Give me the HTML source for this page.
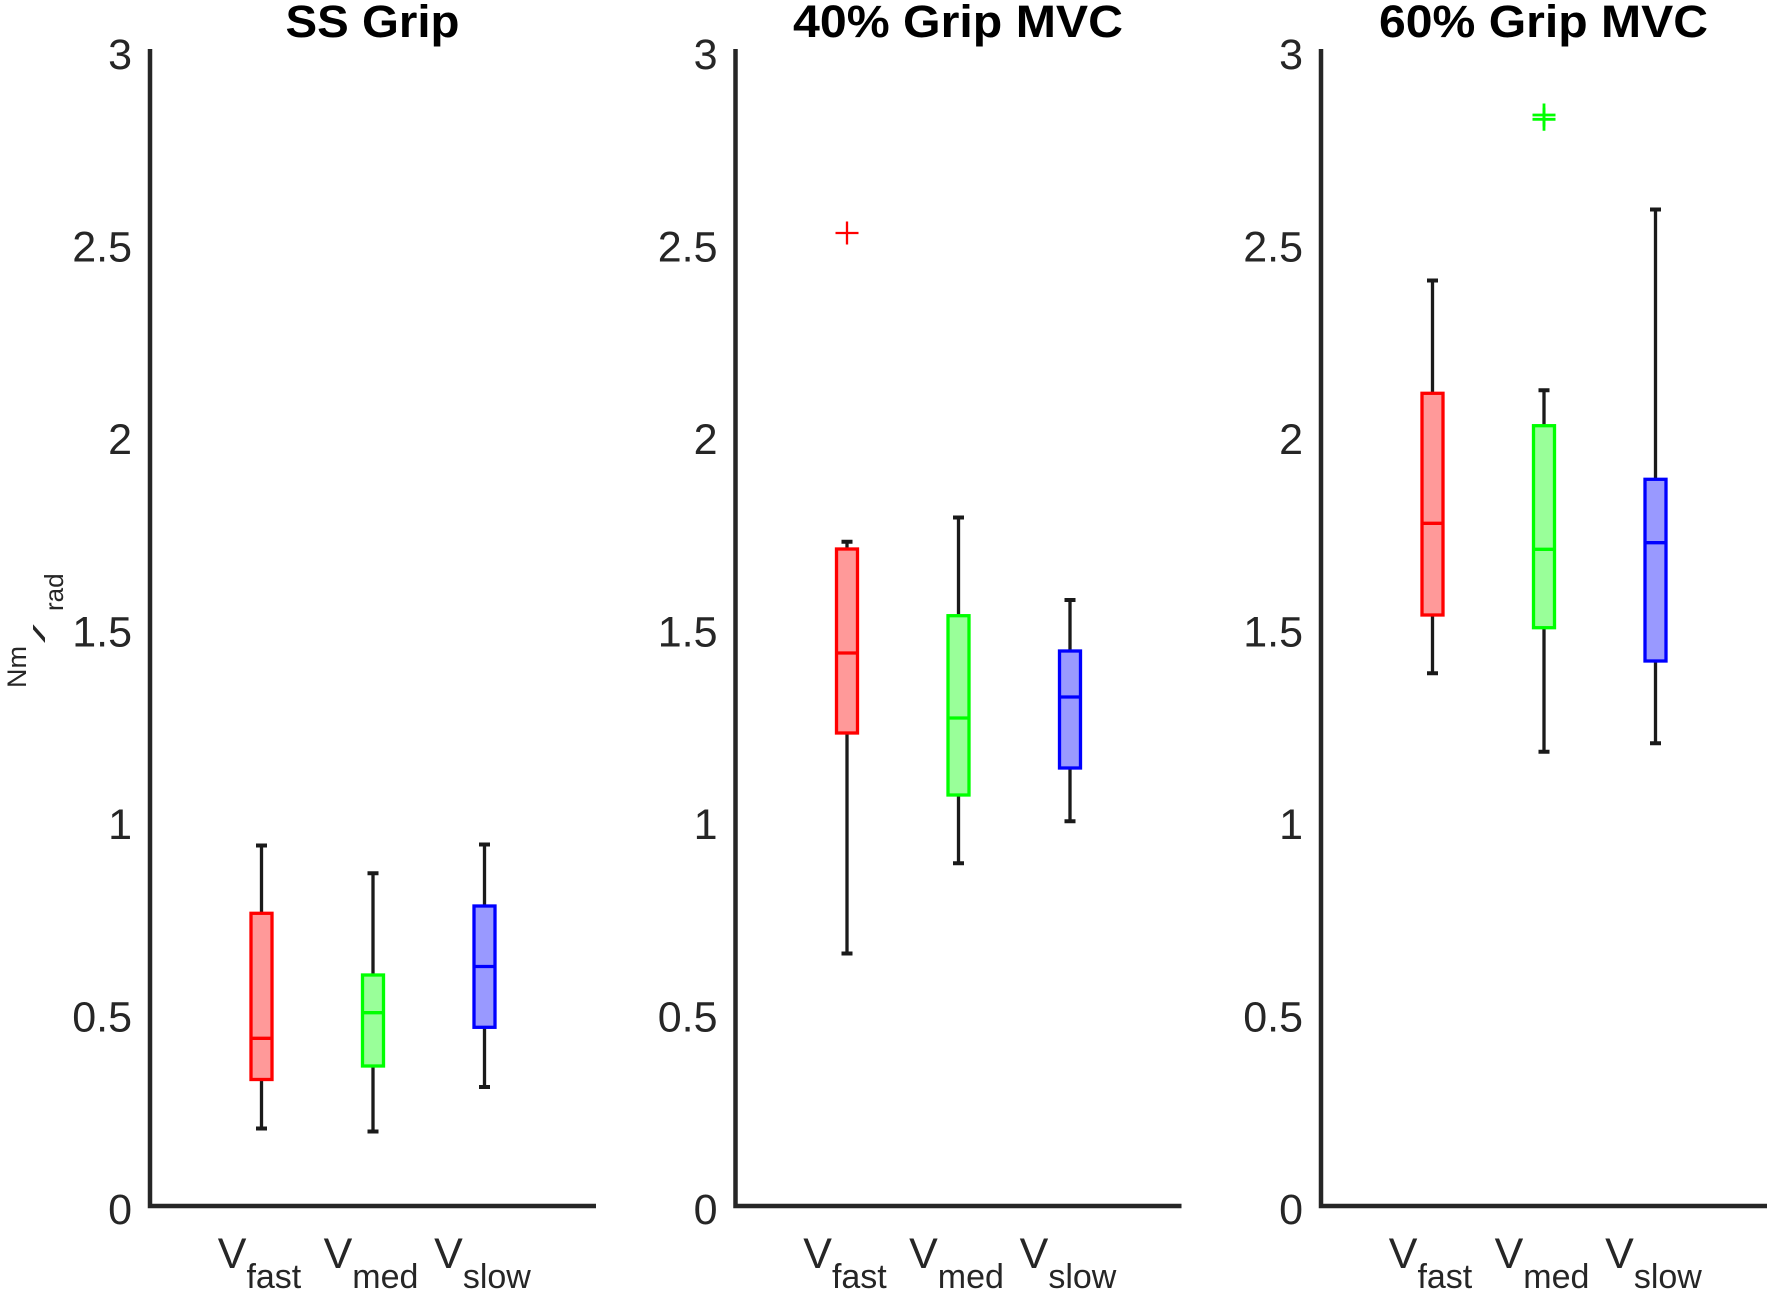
<!DOCTYPE html>
<html>
<head>
<meta charset="utf-8">
<style>
html,body{margin:0;padding:0;background:#fff;}
svg{display:block;}
text{font-family:"Liberation Sans",Arial,sans-serif;}
</style>
</head>
<body>
<svg width="1772" height="1293" viewBox="0 0 1772 1293" xmlns="http://www.w3.org/2000/svg">
<rect width="1772" height="1293" fill="#fff"/>

<!-- Titles -->
<g font-weight="bold" font-size="45" fill="#000" text-anchor="middle">
  <text x="372.5" y="37" textLength="174" lengthAdjust="spacingAndGlyphs">SS Grip</text>
  <text x="958" y="37" textLength="330" lengthAdjust="spacingAndGlyphs">40% Grip MVC</text>
  <text x="1543.5" y="37" textLength="329" lengthAdjust="spacingAndGlyphs">60% Grip MVC</text>
</g>

<!-- Y label -->
<g fill="#262626">
  <text transform="translate(26,688) rotate(-90)" font-size="27">Nm</text>
  <text transform="translate(45,643) rotate(-90) scale(2.6,0.65)" font-size="26">/</text>
  <text transform="translate(63,611) rotate(-90)" font-size="26">rad</text>
</g>

<!-- Axes -->
<g stroke="#262626" stroke-width="4.5" fill="none">
  <path d="M150,49 V1206 H596"/>
  <path d="M735.5,49 V1206 H1181.5"/>
  <path d="M1321,49 V1206 H1767"/>
</g>

<!-- Y tick labels -->
<g font-size="43" fill="#262626" text-anchor="end">
  <text x="132" y="1224">0</text>
  <text x="132" y="1031.5">0.5</text>
  <text x="132" y="839">1</text>
  <text x="132" y="646.5">1.5</text>
  <text x="132" y="454">2</text>
  <text x="132" y="261.5">2.5</text>
  <text x="132" y="69">3</text>

  <text x="717.5" y="1224">0</text>
  <text x="717.5" y="1031.5">0.5</text>
  <text x="717.5" y="839">1</text>
  <text x="717.5" y="646.5">1.5</text>
  <text x="717.5" y="454">2</text>
  <text x="717.5" y="261.5">2.5</text>
  <text x="717.5" y="69">3</text>

  <text x="1303" y="1224">0</text>
  <text x="1303" y="1031.5">0.5</text>
  <text x="1303" y="839">1</text>
  <text x="1303" y="646.5">1.5</text>
  <text x="1303" y="454">2</text>
  <text x="1303" y="261.5">2.5</text>
  <text x="1303" y="69">3</text>
</g>

<!-- X tick labels -->
<g fill="#262626" text-anchor="middle">
  <text x="259.5" y="1268"><tspan font-size="43">V</tspan><tspan font-size="34" dy="20">fast</tspan></text>
  <text x="371" y="1268"><tspan font-size="43">V</tspan><tspan font-size="34" dy="20">med</tspan></text>
  <text x="482.5" y="1268"><tspan font-size="43">V</tspan><tspan font-size="34" dy="20">slow</tspan></text>

  <text x="845" y="1268"><tspan font-size="43">V</tspan><tspan font-size="34" dy="20">fast</tspan></text>
  <text x="956.5" y="1268"><tspan font-size="43">V</tspan><tspan font-size="34" dy="20">med</tspan></text>
  <text x="1068" y="1268"><tspan font-size="43">V</tspan><tspan font-size="34" dy="20">slow</tspan></text>

  <text x="1430.5" y="1268"><tspan font-size="43">V</tspan><tspan font-size="34" dy="20">fast</tspan></text>
  <text x="1542" y="1268"><tspan font-size="43">V</tspan><tspan font-size="34" dy="20">med</tspan></text>
  <text x="1653.5" y="1268"><tspan font-size="43">V</tspan><tspan font-size="34" dy="20">slow</tspan></text>
</g>

<!-- Whiskers (lines + caps) -->
<g stroke="#1a1a1a" stroke-width="3.3" fill="none">
  <line x1="261.5" y1="845.5" x2="261.5" y2="1128.5"/>
  <line x1="373" y1="873.3" x2="373" y2="1131.5"/>
  <line x1="484.5" y1="844.5" x2="484.5" y2="1087"/>
  <line x1="847" y1="541.7" x2="847" y2="953.5"/>
  <line x1="958.5" y1="517.5" x2="958.5" y2="863.3"/>
  <line x1="1070" y1="600" x2="1070" y2="821.3"/>
  <line x1="1432.5" y1="280.5" x2="1432.5" y2="673.3"/>
  <line x1="1544" y1="390.3" x2="1544" y2="751.7"/>
  <line x1="1655.5" y1="209.5" x2="1655.5" y2="743.3"/>
</g>
<g stroke="#1a1a1a" stroke-width="4" fill="none">
  <path d="M256,845.5h11 M256,1128.5h11"/>
  <path d="M367.5,873.3h11 M367.5,1131.5h11"/>
  <path d="M479,844.5h11 M479,1087h11"/>
  <path d="M841.5,541.7h11 M841.5,953.5h11"/>
  <path d="M953,517.5h11 M953,863.3h11"/>
  <path d="M1064.5,600h11 M1064.5,821.3h11"/>
  <path d="M1427,280.5h11 M1427,673.3h11"/>
  <path d="M1538.5,390.3h11 M1538.5,751.7h11"/>
  <path d="M1650,209.5h11 M1650,743.3h11"/>
</g>

<!-- Boxes -->
<g stroke-width="3.3">
  <rect x="251" y="913.3" width="21" height="166.2" fill="#ff9999" stroke="#ff0000"/>
  <line x1="251" y1="1038.3" x2="272" y2="1038.3" stroke="#ff0000"/>
  <rect x="362.5" y="975" width="21" height="91" fill="#99ff99" stroke="#00ff00"/>
  <line x1="362.5" y1="1012.7" x2="383.5" y2="1012.7" stroke="#00ff00"/>
  <rect x="474" y="906" width="21" height="121.3" fill="#9999ff" stroke="#0000ff"/>
  <line x1="474" y1="966.5" x2="495" y2="966.5" stroke="#0000ff"/>

  <rect x="836.5" y="549" width="21" height="184" fill="#ff9999" stroke="#ff0000"/>
  <line x1="836.5" y1="653" x2="857.5" y2="653" stroke="#ff0000"/>
  <rect x="948" y="615.7" width="21" height="179.3" fill="#99ff99" stroke="#00ff00"/>
  <line x1="948" y1="718" x2="969" y2="718" stroke="#00ff00"/>
  <rect x="1059.5" y="651" width="21" height="117" fill="#9999ff" stroke="#0000ff"/>
  <line x1="1059.5" y1="697" x2="1080.5" y2="697" stroke="#0000ff"/>

  <rect x="1422" y="393.3" width="21" height="221.7" fill="#ff9999" stroke="#ff0000"/>
  <line x1="1422" y1="523.3" x2="1443" y2="523.3" stroke="#ff0000"/>
  <rect x="1533.5" y="425.7" width="21" height="202" fill="#99ff99" stroke="#00ff00"/>
  <line x1="1533.5" y1="549.3" x2="1554.5" y2="549.3" stroke="#00ff00"/>
  <rect x="1645" y="479.3" width="21" height="181.7" fill="#9999ff" stroke="#0000ff"/>
  <line x1="1645" y1="542.7" x2="1666" y2="542.7" stroke="#0000ff"/>
</g>

<!-- Outliers -->
<g fill="none">
  <path d="M835.5,233h23 M847,221.5v23" stroke="#ff0000" stroke-width="2.3"/>
  <path d="M1532.5,115h23 M1544,103.5v23" stroke="#00ff00" stroke-width="2.8"/>
  <path d="M1532.5,119.3h23 M1544,107.8v23" stroke="#00ff00" stroke-width="2.8"/>
</g>
</svg>
</body>
</html>
